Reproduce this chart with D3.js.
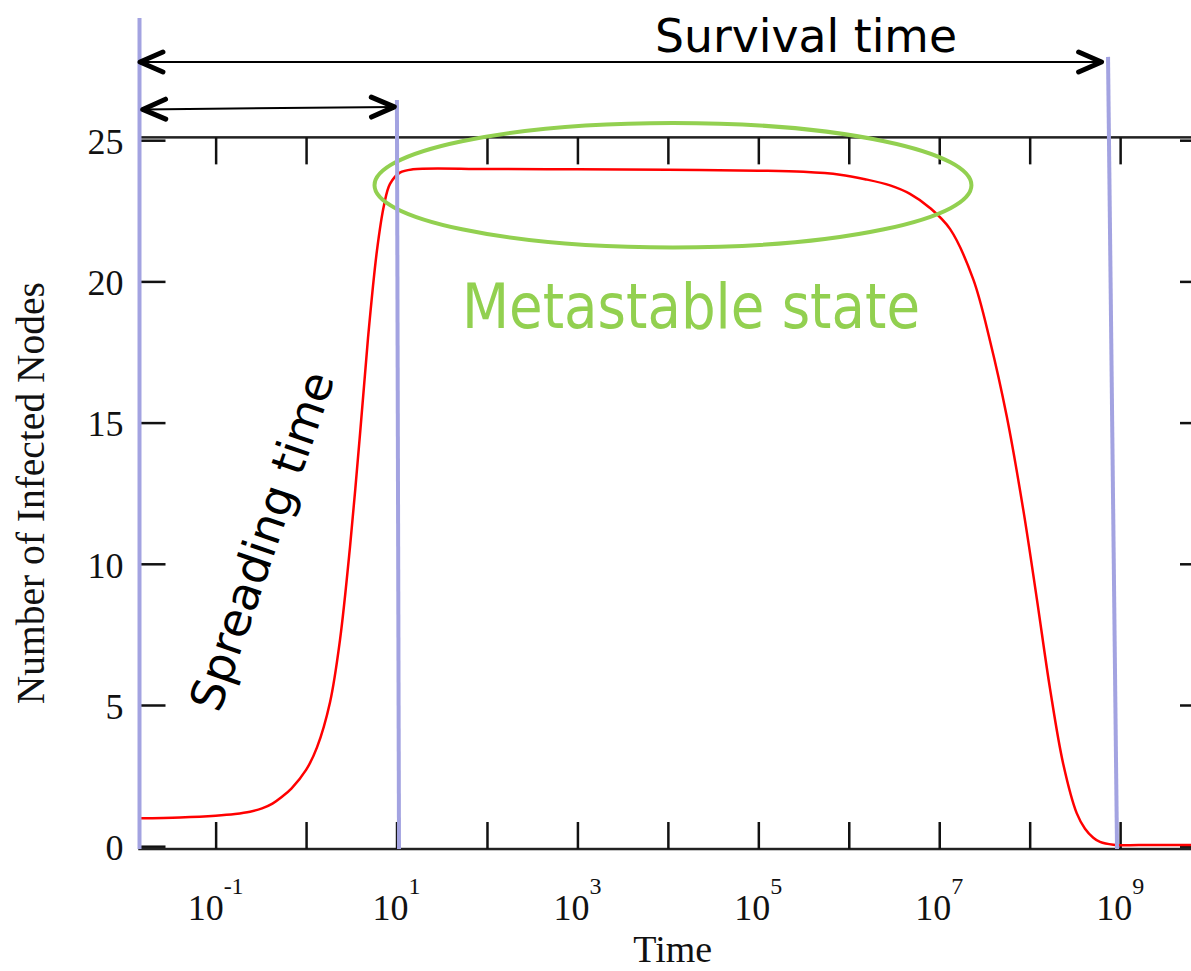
<!DOCTYPE html>
<html>
<head>
<meta charset="utf-8">
<script src="https://cdn.jsdelivr.net/npm/d3@7"></script>
<style>
  body { margin: 0; background: #fff; }
</style>
</head>
<body>
<div id="chart"></div>
<script>
// curve (time, number of infected nodes)
const times = [0.0144, 0.0404, 0.1, 0.164, 0.24, 0.326, 0.425, 0.542, 0.692, 1.0, 1.32, 1.84, 2.37, 3.06, 3.95,
    4.84, 6.08, 7.27, 8.47, 10.9, 15.2, 100, 1e3, 1e4, 1e5, 3.16e5, 8e5, 1.51e6, 2.86e6, 4.75e6, 7.91e6,
    1.32e7, 2.38e7, 3.64e7, 5.57e7, 8.5e7, 1.2e8, 1.68e8, 2.35e8, 3.31e8, 4.09e8, 5.05e8, 5.99e8, 8.4e8,
    1.66e9, 8.9e9];
const infected = [0.99, 1.02, 1.08, 1.14, 1.22, 1.34, 1.51, 1.75, 2.05, 2.7, 3.5, 5.1, 7.3, 10.6, 14.6,
    18.0, 21.1, 22.7, 23.45, 23.85, 23.97, 23.98, 23.97, 23.95, 23.92, 23.88, 23.78, 23.62, 23.4, 23.1, 22.6,
    21.85, 20.07, 17.9, 15.23, 11.91, 8.76, 5.57, 2.91, 1.17, 0.62, 0.3, 0.15, 0.05,
    0.04, 0.04];

const decadeTicks = [1e-1, 1, 1e1, 1e2, 1e3, 1e4, 1e5, 1e6, 1e7, 1e8, 1e9];
const labelExponents = [-1, 1, 3, 5, 7, 9];
const yTicks = [0, 5, 10, 15, 20, 25];

// annotations, in chart units (time, value)
const markerLines = [
    {t0: 0.0144, v0: 29.33, t1: 0.0144, v1: -0.1},
    {t0: 10.1, v0: 26.42, t1: 10.65, v1: -0.1},
    {t0: 7.35e8, v0: 27.95, t1: 9.24e8, v1: -0.1}
];
const arrows = [
    {t0: 0.01459, v0: 27.77, t1: 6.23e8, v1: 27.77},
    {t0: 0.01563, v0: 26.09, t1: 9.45, v1: 26.18}
];
const metastable = {tLeft: 5.71, tRight: 2.27e7, vTop: 25.61, vBottom: 21.2};

const width = 1191;
const height = 971;

const svg = d3.select('#chart')
    .append('svg')
    .attr('width', width)
    .attr('height', height)
    .style('font-family', '"Liberation Serif", "Times New Roman", serif');

const x = d3.scaleLog()
    .domain([0.0144, 8.9e9])
    .range([139.5, 1206]);

const y = d3.scaleLinear()
    .domain([0, 25])
    .range([846.2, 140.2]);

const frameTop = y(25.1);
const frameBottom = y(-0.1);

// frame
svg.append('rect')
    .attr('x', x.range()[0])
    .attr('y', frameTop)
    .attr('width', x.range()[1] - x.range()[0])
    .attr('height', frameBottom - frameTop)
    .attr('fill', 'none')
    .attr('stroke', '#222')
    .attr('stroke-width', 2.5);

function styleAxis(g) {
    g.select('.domain').remove();
    g.selectAll('.tick line').attr('stroke', '#111').attr('stroke-width', 2.5);
}

svg.append('g')
    .attr('transform', `translate(0, ${frameBottom})`)
    .call(d3.axisBottom(x).tickValues(decadeTicks).tickSizeInner(-27).tickSizeOuter(0).tickFormat(''))
    .call(styleAxis);

svg.append('g')
    .attr('transform', `translate(0, ${frameTop})`)
    .call(d3.axisTop(x).tickValues(decadeTicks).tickSizeInner(-27).tickSizeOuter(0).tickFormat(''))
    .call(styleAxis);

svg.append('g')
    .attr('transform', `translate(${x.range()[0]}, 0)`)
    .call(d3.axisLeft(y).tickValues(yTicks).tickSizeInner(-26).tickSizeOuter(0).tickPadding(16))
    .call(styleAxis)
    .call(g => g.selectAll('.tick text')
        .attr('font-family', '"Liberation Serif", serif')
        .attr('font-size', 36)
        .attr('fill', '#111')
        .attr('dy', '0.37em'));

svg.append('g')
    .attr('transform', `translate(${x.range()[1]}, 0)`)
    .call(d3.axisRight(y).tickValues(yTicks).tickSizeInner(-26).tickSizeOuter(0).tickFormat(''))
    .call(styleAxis);

// x tick labels 10^n
const xLabels = svg.append('g')
    .selectAll('text')
    .data(labelExponents)
    .join('text')
    .attr('x', d => x(Math.pow(10, d)))
    .attr('y', 920)
    .attr('text-anchor', 'middle')
    .attr('font-size', 36)
    .attr('fill', '#111');
xLabels.append('tspan').text('10');
xLabels.append('tspan')
    .attr('dy', -26)
    .attr('font-size', 24)
    .text(d => d < 0 ? '-' + Math.abs(d) : String(d));

// axis titles
svg.append('text')
    .attr('x', (x.range()[0] + x.range()[1]) / 2)
    .attr('y', 962)
    .attr('text-anchor', 'middle')
    .attr('font-size', 38)
    .attr('fill', '#111')
    .text('Time');

svg.append('text')
    .attr('transform', `translate(43.5, ${(frameTop + frameBottom) / 2}) rotate(-90)`)
    .attr('text-anchor', 'middle')
    .attr('font-size', 39.5)
    .attr('fill', '#111')
    .text('Number of Infected Nodes');

// the curve
const points = times.map((t, i) => ({t: t, v: infected[i]}));
const line = d3.line()
    .x(d => x(d.t))
    .y(d => y(d.v))
    .curve(d3.curveCatmullRom.alpha(0.5));

svg.append('path')
    .datum(points)
    .attr('d', line)
    .attr('fill', 'none')
    .attr('stroke', '#ff0000')
    .attr('stroke-width', 2.5);

// ellipse round the metastable state
svg.append('ellipse')
    .attr('cx', (x(metastable.tLeft) + x(metastable.tRight)) / 2)
    .attr('cy', (y(metastable.vTop) + y(metastable.vBottom)) / 2)
    .attr('rx', (x(metastable.tRight) - x(metastable.tLeft)) / 2)
    .attr('ry', (y(metastable.vBottom) - y(metastable.vTop)) / 2)
    .attr('fill', 'none')
    .attr('stroke', '#92d050')
    .attr('stroke-width', 4);

// purple markers
svg.append('g')
    .selectAll('line')
    .data(markerLines)
    .join('line')
    .attr('x1', d => x(d.t0))
    .attr('y1', d => y(d.v0))
    .attr('x2', d => x(d.t1))
    .attr('y2', d => y(d.v1))
    .attr('stroke', '#a3a3e1')
    .attr('stroke-width', 4);

// double arrows
function chevron(px, py, ang) {
    const len = 25, spread = 0.41;
    const a1 = ang + spread, a2 = ang - spread;
    return `M${px + len * Math.cos(a1)},${py + len * Math.sin(a1)}L${px},${py}L${px + len * Math.cos(a2)},${py + len * Math.sin(a2)}`;
}

const arrowG = svg.append('g');
arrows.forEach(a => {
    const x0 = x(a.t0), y0 = y(a.v0), x1 = x(a.t1), y1 = y(a.v1);
    const ang = Math.atan2(y1 - y0, x1 - x0);
    arrowG.append('line')
        .attr('x1', x0).attr('y1', y0).attr('x2', x1).attr('y2', y1)
        .attr('stroke', '#000').attr('stroke-width', 2);
    arrowG.append('path')
        .attr('d', chevron(x0, y0, ang) + chevron(x1, y1, ang + Math.PI))
        .attr('fill', 'none')
        .attr('stroke', '#000')
        .attr('stroke-width', 5)
        .attr('stroke-linecap', 'round')
        .attr('stroke-linejoin', 'round');
});

// annotation texts
svg.append('text')
    .attr('x', 806)
    .attr('y', 52)
    .attr('text-anchor', 'middle')
    .attr('font-family', '"DejaVu Sans", sans-serif')
    .attr('font-size', 46)
    .attr('textLength', 302)
    .attr('lengthAdjust', 'spacingAndGlyphs')
    .attr('fill', '#000')
    .text('Survival time');

svg.append('text')
    .attr('x', 691)
    .attr('y', 328)
    .attr('text-anchor', 'middle')
    .attr('font-family', '"DejaVu Sans", sans-serif')
    .attr('font-size', 62)
    .attr('textLength', 458)
    .attr('lengthAdjust', 'spacingAndGlyphs')
    .attr('fill', '#92d050')
    .text('Metastable state');

svg.append('text')
    .attr('transform', 'translate(262, 541) rotate(-71)')
    .attr('text-anchor', 'middle')
    .attr('dominant-baseline', 'central')
    .attr('font-family', '"DejaVu Sans", sans-serif')
    .attr('font-size', 46)
    .attr('textLength', 355)
    .attr('lengthAdjust', 'spacingAndGlyphs')
    .attr('fill', '#000')
    .text('Spreading time');
</script>
</body>
</html>
